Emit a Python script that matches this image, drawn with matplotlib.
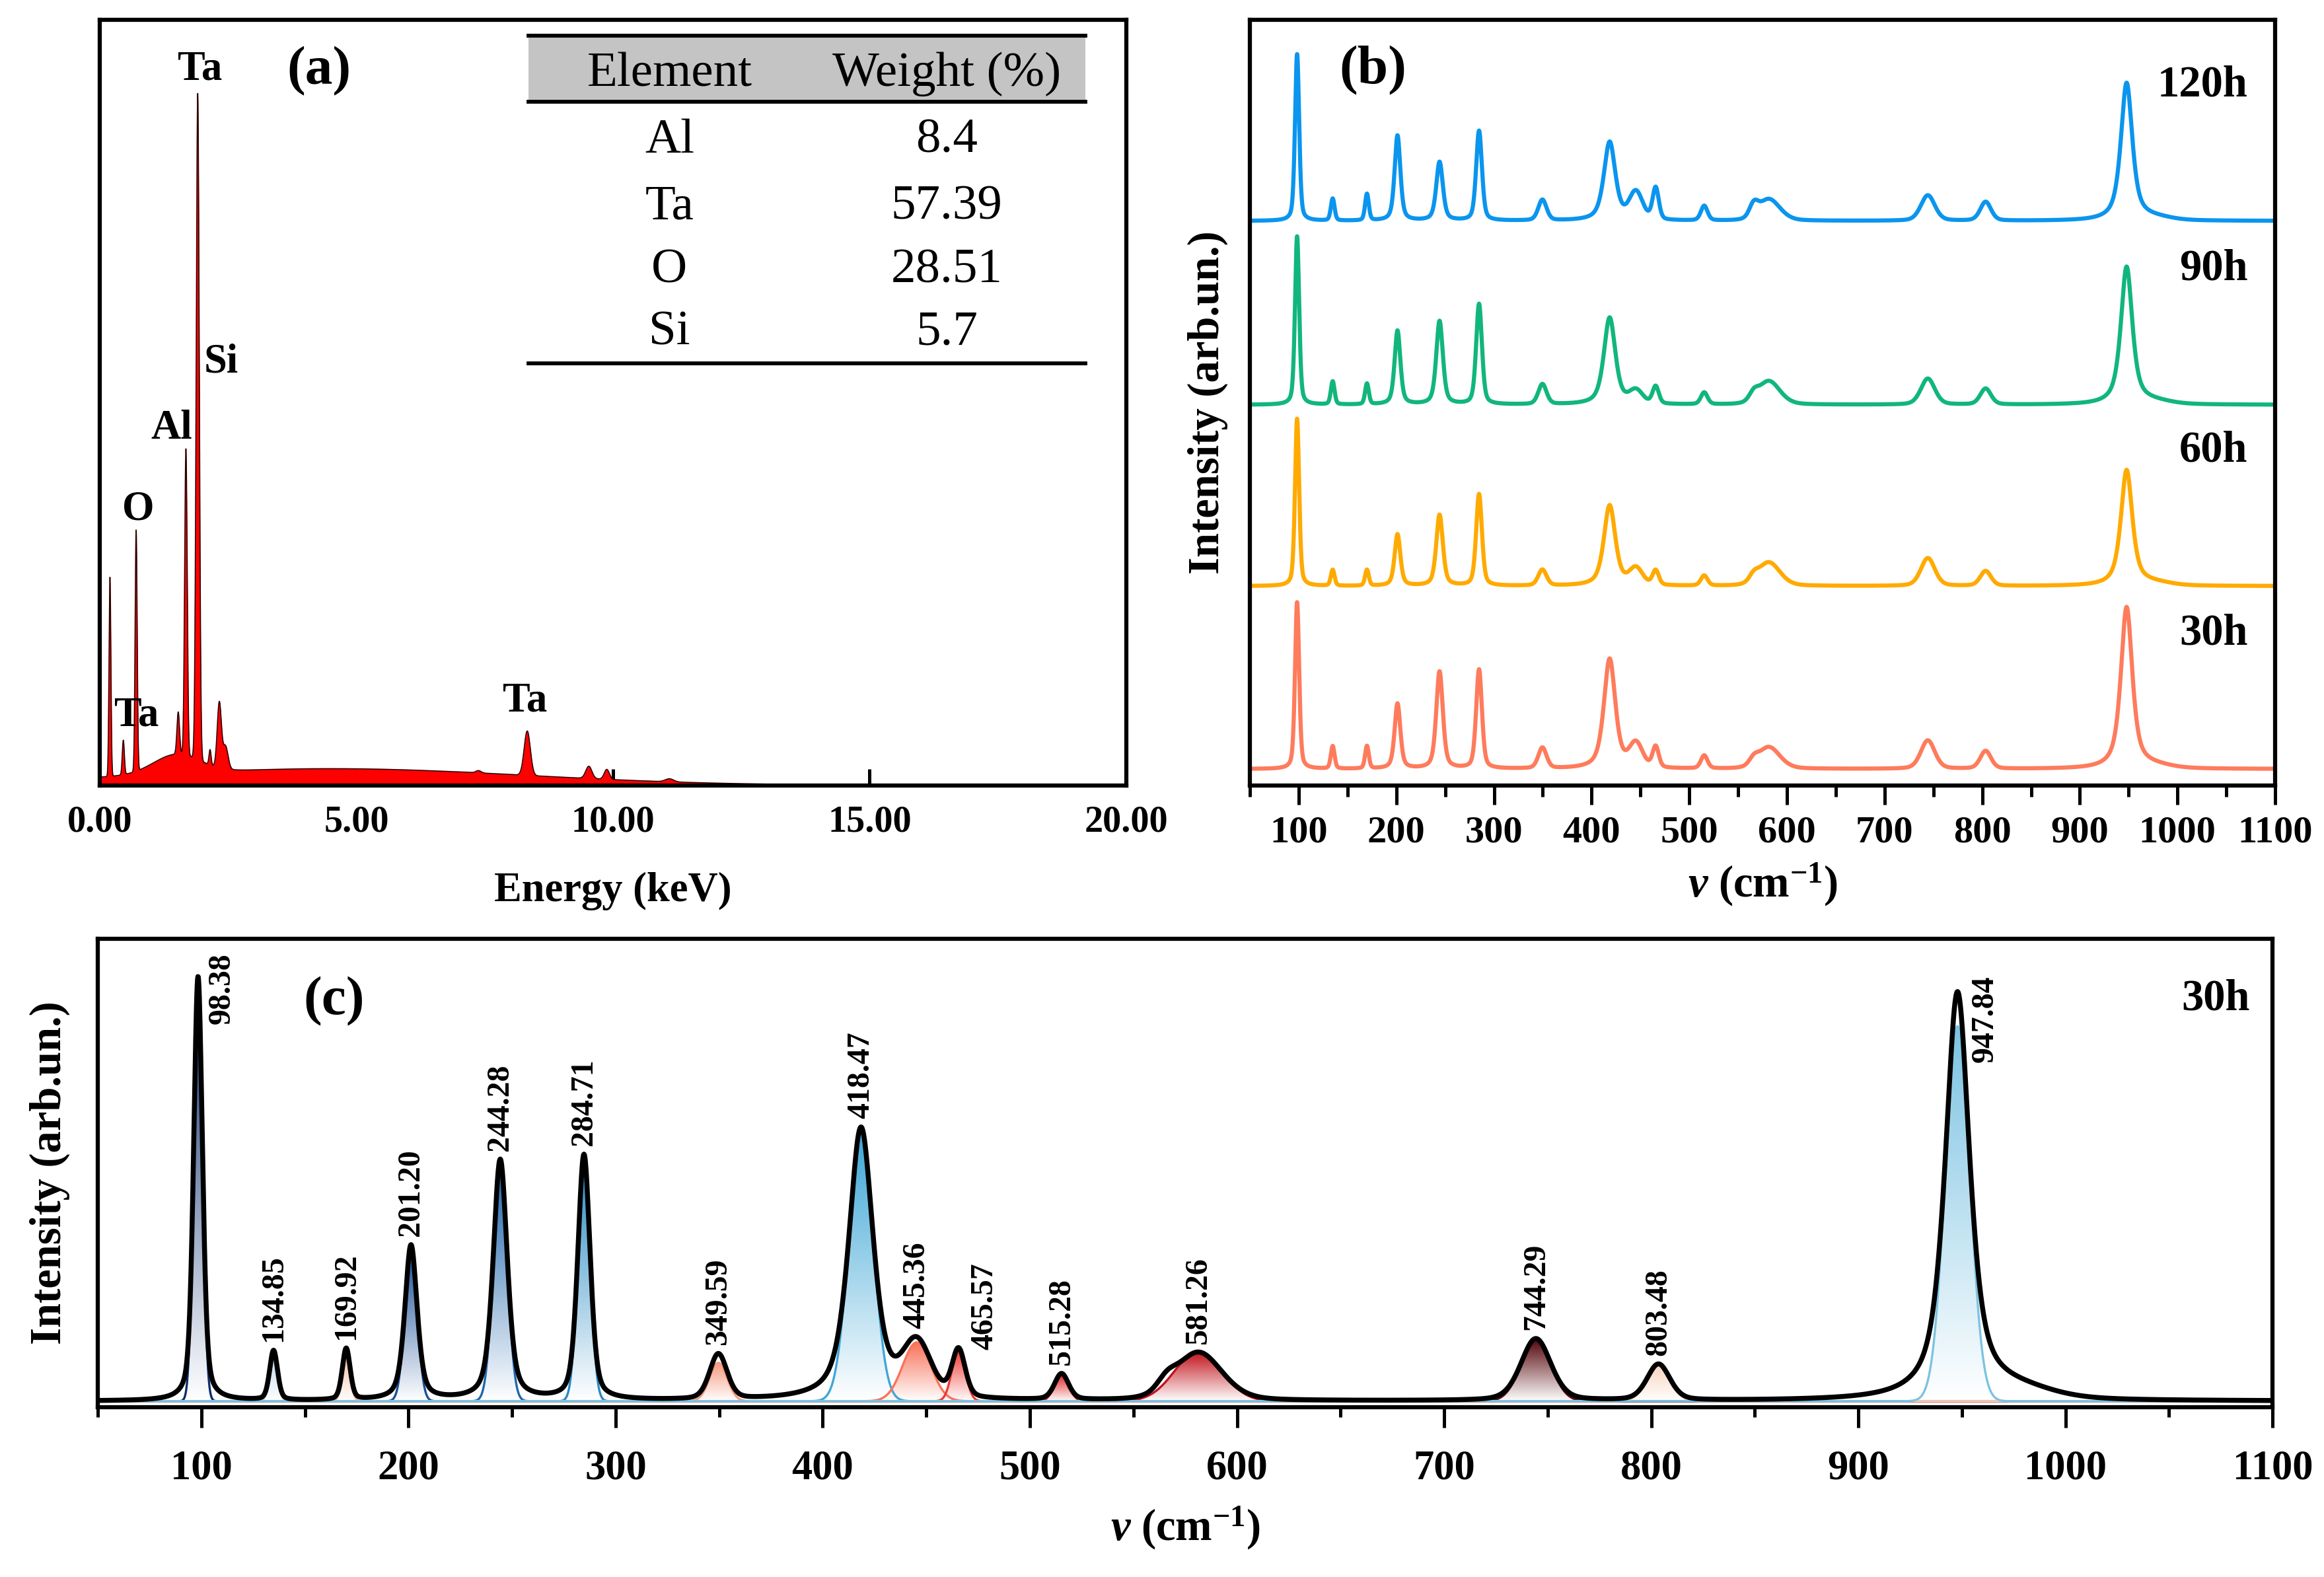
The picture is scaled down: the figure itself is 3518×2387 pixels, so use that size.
import numpy as np
import matplotlib
matplotlib.use("Agg")
import matplotlib.pyplot as plt
from matplotlib.colors import LinearSegmentedColormap

plt.rcParams['font.family'] = ['Liberation Serif', 'DejaVu Serif']
plt.rcParams['font.weight'] = 'bold'
plt.rcParams['axes.labelweight'] = 'bold'
plt.rcParams['mathtext.fontset'] = 'custom'
plt.rcParams['mathtext.rm'] = 'Liberation Serif:bold'
plt.rcParams['mathtext.it'] = 'Liberation Serif:italic:bold'
plt.rcParams['mathtext.bf'] = 'Liberation Serif:bold'

# ---------------- (a) EDS data: peaks ----------------
eds_energy = [0.20, 0.46, 0.71, 1.53, 1.68, 1.91, 2.15, 2.33, 2.45, 7.38, 8.33, 9.53, 9.88, 11.1]
eds_height = [0.26, 0.045, 0.315, 0.055, 0.40, 0.87, 0.02, 0.085, 0.03, 0.003, 0.058, 0.016, 0.013, 0.004]
eds_sigma = [0.018, 0.02, 0.02, 0.025, 0.025, 0.03, 0.02, 0.04, 0.05, 0.05, 0.06, 0.06, 0.05, 0.08]
# broad bremsstrahlung background humps
bg_energy = [1.5, 4.5]
bg_height = [0.025, 0.022]
bg_sigma = [0.45, 3.8]

eds_labels = ['Ta', 'Si', 'Al', 'O', 'Ta', 'Ta']
eds_label_x = [1.95, 2.36, 1.40, 0.75, 0.72, 8.29]
eds_label_y = [0.935, 0.553, 0.466, 0.36, 0.091, 0.11]

table_elements = ['Al', 'Ta', 'O', 'Si']
table_weights = ['8.4', '57.39', '28.51', '5.7']

# ---------------- Raman peaks (b) and (c) ----------------
raman_center = [98.38, 134.85, 169.92, 201.20, 244.28, 284.71, 349.59, 418.47,
                445.36, 465.57, 515.28, 566.0, 581.26, 744.29, 803.48, 947.84, 975.0]
raman_fwhm = [5, 4.5, 4.5, 7, 8, 7, 10, 14, 16, 7.5, 8, 10, 27, 17, 13, 14, 40]
raman_eta = [0.4, 0.3, 0.3, 0.5, 0.5, 0.4, 0.3, 0.6, 0.2, 0.3, 0.3, 0.0, 0.3, 0.3, 0.3, 0.7, 0.0]

# (c) 30h fit: envelope and component heights
env_height = [0.918, 0.107, 0.111, 0.335, 0.52, 0.53, 0.098, 0.59, 0.115, 0.103, 0.056,
              0.02, 0.105, 0.134, 0.078, 0.88, 0.02]
comp_height = [0.918, 0.107, 0.111, 0.325, 0.50, 0.525, 0.083, 0.575, 0.127, 0.111, 0.056,
               0.0, 0.107, 0.13, 0.078, 0.811, 0.0]
comp_color = ['#0a2d6e', '#b9d5ea', '#f6b49a', '#1c4f96', '#2166ac', '#2a8ac4', '#f79a80',
              '#3fa7d6', '#f8735a', '#ec3b32', '#e02a2a', '#c0141c', '#c0141c', '#5a0d12',
              '#f9d4c0', '#7cc3e2', '#7cc3e2']
peak_text = ['98.38', '134.85', '169.92', '201.20', '244.28', '284.71', '349.59', '418.47',
             '445.36', '465.57', '515.28', '', '581.26', '744.29', '803.48', '947.84', '']

# (b) spectra for each milling time
samples = ['30h', '60h', '90h', '120h']
sample_colors = ['#fe7b5c', '#ffaa00', '#11b67c', '#0a95ee']
h30 = [0.91, 0.123, 0.123, 0.355, 0.53, 0.54, 0.113, 0.60, 0.13, 0.115, 0.071, 0.03, 0.12, 0.155, 0.097, 0.88, 0.015]
h60 = [0.913, 0.087, 0.087, 0.281, 0.387, 0.50, 0.087, 0.44, 0.09, 0.08, 0.055, 0.03, 0.13, 0.152, 0.081, 0.63, 0.015]
h90 = [0.919, 0.126, 0.113, 0.403, 0.455, 0.548, 0.11, 0.475, 0.07, 0.095, 0.065, 0.035, 0.13, 0.142, 0.087, 0.75, 0.015]
h120 = [0.91, 0.12, 0.145, 0.465, 0.32, 0.49, 0.113, 0.43, 0.15, 0.175, 0.08, 0.06, 0.12, 0.139, 0.103, 0.75, 0.015]
sample_heights = [h30, h60, h90, h120]
sample_offset = [0.09, 1.088, 2.077, 3.08]


def gauss(x, c, h, s):
    return h * np.exp(-0.5 * ((x - c) / s) ** 2)


def pvoigt(x, c, h, w, eta):
    g = np.exp(-4 * np.log(2) * ((x - c) / w) ** 2)
    lor = 1 / (1 + 4 * ((x - c) / w) ** 2)
    return h * (eta * lor + (1 - eta) * g)


fig = plt.figure(figsize=(3518 / 300, 2387 / 300), dpi=300)
ax_a = fig.add_axes([0.0429, 0.5019, 0.4417, 0.4855])
ax_b = fig.add_axes([0.5378, 0.5019, 0.4412, 0.4855])
ax_c = fig.add_axes([0.0421, 0.1077, 0.9358, 0.2970])

for ax in (ax_a, ax_b, ax_c):
    for s in ax.spines.values():
        s.set_linewidth(1.5)
    ax.set_yticks([])

# ---------------- panel (a) ----------------
e = np.linspace(0, 20, 8000)
spec = np.zeros_like(e)
for c, h, s in zip(bg_energy, bg_height, bg_sigma):
    spec += gauss(e, c, h, s)
for c, h, s in zip(eds_energy, eds_height, eds_sigma):
    spec += gauss(e, c, h, s)
ax_a.fill_between(e, 0, spec, color='#ff0000', lw=0, zorder=1)
ax_a.plot(e, spec, color='#300000', lw=0.4, zorder=1.5)
ax_a.set_axisbelow(True)
ax_a.set_xlim(0, 20)
ax_a.set_ylim(0, 1.0)
ax_a.set_xticks([0, 5, 10, 15, 20])
ax_a.set_xticklabels(['0.00', '5.00', '10.00', '15.00', '20.00'])
ax_a.tick_params(axis='x', direction='in', length=6, width=1.2, labelsize=13.5, pad=7)
ax_a.set_xlabel('Energy (keV)', fontsize=15, labelpad=12)
for t, x, y in zip(eds_labels, eds_label_x, eds_label_y):
    ax_a.text(x, y, t, fontsize=15, ha='center', va='center', zorder=3)
ax_a.text(4.27, 0.933, '(a)', fontsize=20, ha='center', va='center')

# table in panel (a)
tx0, tx1 = 0.418, 0.960
ax_a.add_patch(plt.Rectangle((tx0, 0.893), tx1 - tx0, 0.086, transform=ax_a.transAxes,
                             facecolor='#c4c4c4', edgecolor='none', zorder=2))
for yl in (0.979, 0.893, 0.551):
    ax_a.plot([tx0, tx1], [yl, yl], transform=ax_a.transAxes, color='black', lw=1.4, zorder=3)
ax_a.text(0.555, 0.929, 'Element', transform=ax_a.transAxes, fontsize=18,
          fontweight='normal', ha='center', va='center', zorder=3)
ax_a.text(0.825, 0.929, 'Weight (%)', transform=ax_a.transAxes, fontsize=18,
          fontweight='normal', ha='center', va='center', zorder=3)
for el, w, yy in zip(table_elements, table_weights, [0.842, 0.755, 0.672, 0.591]):
    ax_a.text(0.555, yy, el, transform=ax_a.transAxes, fontsize=18, fontweight='normal',
              ha='center', va='center')
    ax_a.text(0.825, yy, w, transform=ax_a.transAxes, fontsize=18, fontweight='normal',
              ha='center', va='center')

# ---------------- panel (b) ----------------
v = np.linspace(50, 1100, 6000)
for name, col, hs, off in zip(samples, sample_colors, sample_heights, sample_offset):
    y = np.zeros_like(v)
    for c, h, w, eta in zip(raman_center, hs, raman_fwhm, raman_eta):
        y += pvoigt(v, c, h, w, eta)
    ax_b.plot(v, y + off, color=col, lw=1.5)
    ax_b.text(1072, off + 0.74, name, fontsize=16, ha='right', va='center')
ax_b.text(176, 3.9, '(b)', fontsize=20, ha='center', va='center')
ax_b.set_xlim(50, 1100)
ax_b.set_ylim(0, 4.177)
ax_b.set_xticks(np.arange(100, 1101, 100))
ax_b.set_xticks(np.arange(50, 1100, 100), minor=True)
ax_b.tick_params(axis='x', which='major', direction='out', length=7, width=1.2, labelsize=14, pad=4)
ax_b.tick_params(axis='x', which='minor', direction='out', length=4, width=1.2)
ax_b.set_xlabel(r'$v$ (cm$^{-1}$)', fontsize=16, labelpad=4)
ax_b.set_ylabel('Intensity (arb.un.)', fontsize=16, labelpad=8)

# ---------------- panel (c) ----------------
grad = np.linspace(0, 1, 256).reshape(-1, 1)
for i, (c, h, w, col) in enumerate(zip(raman_center, comp_height, raman_fwhm, comp_color)):
    if h <= 0:
        continue
    yc = pvoigt(v, c, h, w, 0.0)
    poly = ax_c.fill_between(v, 0, yc, facecolor='none', edgecolor='none')
    cmap = LinearSegmentedColormap.from_list('g%d' % i, ['white', col])
    im = ax_c.imshow(grad, extent=[c - 3 * w, c + 3 * w, 0, h], origin='lower',
                     aspect='auto', cmap=cmap, zorder=2, interpolation='bilinear')
    im.set_clip_path(poly.get_paths()[0], transform=ax_c.transData)
    ax_c.plot(v, yc, color=col, lw=0.8, zorder=3)

env = np.zeros_like(v)
for c, h, w, eta in zip(raman_center, env_height, raman_fwhm, raman_eta):
    env += pvoigt(v, c, h, w, eta)
ax_c.plot(v, env, color='black', lw=1.8, zorder=4)

for c, t in zip(raman_center, peak_text):
    if not t:
        continue
    top = np.interp(c, v, env)
    if t == '98.38':
        ax_c.text(110, 0.97, t, rotation=90, fontsize=11.5, ha='center', va='top')
    elif t == '947.84':
        ax_c.text(961, 0.92, t, rotation=90, fontsize=11.5, ha='center', va='top')
    elif t == '465.57':
        ax_c.text(478, 0.111, t, rotation=90, fontsize=11.5, ha='center', va='bottom')
    else:
        ax_c.text(c, top + 0.018, t, rotation=90, fontsize=11.5, ha='center', va='bottom')

ax_c.text(164, 0.865, '(c)', fontsize=20, ha='center', va='center')
ax_c.text(1089, 0.87, '30h', fontsize=16, ha='right', va='center')
ax_c.set_xlim(50, 1100)
ax_c.set_ylim(-0.013, 1.0)
ax_c.set_xticks(np.arange(100, 1101, 100))
ax_c.set_xticks(np.arange(50, 1100, 100), minor=True)
ax_c.tick_params(axis='x', which='major', direction='out', length=7.5, width=1.2, labelsize=15, pad=8)
ax_c.tick_params(axis='x', which='minor', direction='out', length=3.5, width=1.2)
ax_c.set_xlabel(r'$v$ (cm$^{-1}$)', fontsize=16, labelpad=6)
ax_c.set_ylabel('Intensity (arb.un.)', fontsize=16, labelpad=10)

fig.savefig('out.png', dpi=300)
